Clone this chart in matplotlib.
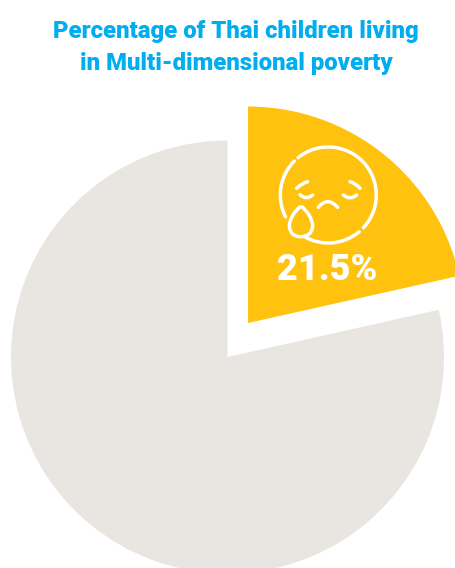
import matplotlib
matplotlib.use("Agg")
import matplotlib.pyplot as plt
from matplotlib.patches import Arc, PathPatch
from matplotlib.path import Path

labels = ["Multi-dimensional poverty", "Other children"]
values = [21.5, 78.5]
colors = ["#FFC20E", "#E9E6E1"]
title_lines = "Percentage of Thai children living\nin Multi-dimensional poverty"
value_label = "21.5%"

W, H = 456, 568

fig = plt.figure(figsize=(W / 100, H / 100), dpi=100)
ax = fig.add_axes([0, 0, 1, 1])


def Y(y):
    return H - y


wedges, _ = ax.pie(values, colors=colors, startangle=90, counterclock=False,
                   center=(227.5, Y(357)), radius=216.5, frame=True,
                   wedgeprops={"linewidth": 0})
wedges[0].set_center((248, Y(323)))
ax.set_xlim(0, W)
ax.set_ylim(0, H)
ax.set_aspect("equal")
ax.axis("off")

ax.text(236, Y(47.5), title_lines, ha="center", va="center", color="#00AEEF",
        family="Roboto", fontsize=17.2, fontweight=900, linespacing=1.52)
ax.text(327, Y(270.5), value_label, ha="center", va="center", color="white",
        family="Roboto", fontsize=26, fontweight=900)

# Sad-face icon
LW = 2.5
style = dict(color="white", lw=LW, capstyle="round", fill=False)
cx, cy, r = 328.3, 195, 48
for start, end in [(-43, 129), (135, 207), (240, 310)]:
    ax.add_patch(Arc((cx, Y(cy)), 2 * r, 2 * r, theta1=start, theta2=end, **style))


def stroke(points):
    codes = [Path.MOVETO] + [Path.CURVE3] * (len(points) - 1)
    pts = [(240 + x / 3, Y(100 + y / 3)) for x, y in points]
    ax.add_patch(PathPatch(Path(pts, codes), edgecolor="white", facecolor="none",
                           lw=LW, capstyle="round"))


stroke([(170, 265), (185, 250), (203, 245)])       # left brow
stroke([(180, 284), (198, 302), (218, 285)])       # left eye
stroke([(330, 245), (348, 250), (360, 265)])       # right brow
stroke([(310, 285), (330, 302), (350, 285)])       # right eye
stroke([(235, 322), (263, 288), (293, 322)])       # mouth

# Teardrop
drop = [(183, 318), (150, 345), (148, 378), (150, 410), (182, 410),
        (216, 410), (218, 378), (216, 345), (183, 318)]
dcodes = [Path.MOVETO] + [Path.CURVE3] * 8
ax.add_patch(PathPatch(Path([(240 + x / 3, Y(100 + y / 3)) for x, y in drop], dcodes),
                       edgecolor="white", facecolor="#FFC20E", lw=LW, joinstyle="round"))

fig.savefig("out.png", dpi=100, facecolor="white")
